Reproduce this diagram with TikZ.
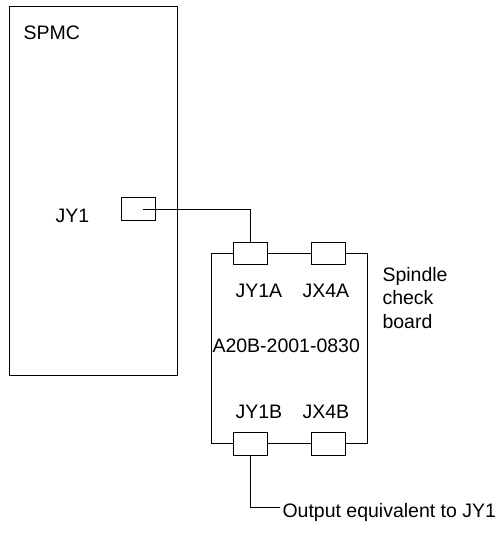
\documentclass[tikz,border=0pt]{standalone}
\usepackage{fontspec}
\setmainfont{Liberation Sans}
\begin{document}
\begin{tikzpicture}[x=1pt,y=-1pt,
  line width=1pt,
  lbl/.style={anchor=base west,inner sep=0pt,font=\fontsize{19.5}{23.5}\selectfont},
  conn/.style={draw,fill=white,inner sep=0pt,minimum width=34pt,minimum height=23pt},
  wire/.style={draw,line width=1pt}]
\useasboundingbox (0,0) rectangle (502,541);
% SPMC unit
\node[draw,inner sep=0pt,minimum width=168pt,minimum height=369pt] (spmc) at (93,190.5) {};
\node[lbl] (spmclbl) at (23,39) {SPMC};
\node[lbl] (jy1lbl) at (55,222) {JY1};
\node[conn] (jy1) at (138,208.5) {};
\coordinate (wstart) at (143,209);
% board
\node[draw,inner sep=0pt,minimum width=156pt,minimum height=190pt] (board) at (289,348) {};
\node[conn,minimum height=22pt] (jy1a) at (250,253) {};
\node[conn,minimum height=22pt] (jx4a) at (328.5,253) {};
\node[conn] (jy1b) at (250,443.5) {};
\node[conn] (jx4b) at (328.5,443.5) {};
\node[lbl] (jy1albl) at (235,297) {JY1A};
\node[lbl] (jx4albl) at (302,297) {JX4A};
\node[lbl] (partlbl) at (212,352) {A20B-2001-0830};
\node[lbl] (jy1blbl) at (235,418) {JY1B};
\node[lbl] (jx4blbl) at (302,418) {JX4B};
\node[lbl,align=left,anchor=north west] (boardlbl) at (382,266.5) {Spindle\\check\\board};
% wires
\draw[wire] (wstart) -- (wstart -| jy1a.north) -- (jy1a.north);
\coordinate (outend) at (280,507);
\draw[wire] (jy1b.south) -- (jy1b.south |- outend) -- (outend);
\node[lbl] (outlbl) at (282,517) {Output equivalent to JY1};
\end{tikzpicture}
\end{document}
